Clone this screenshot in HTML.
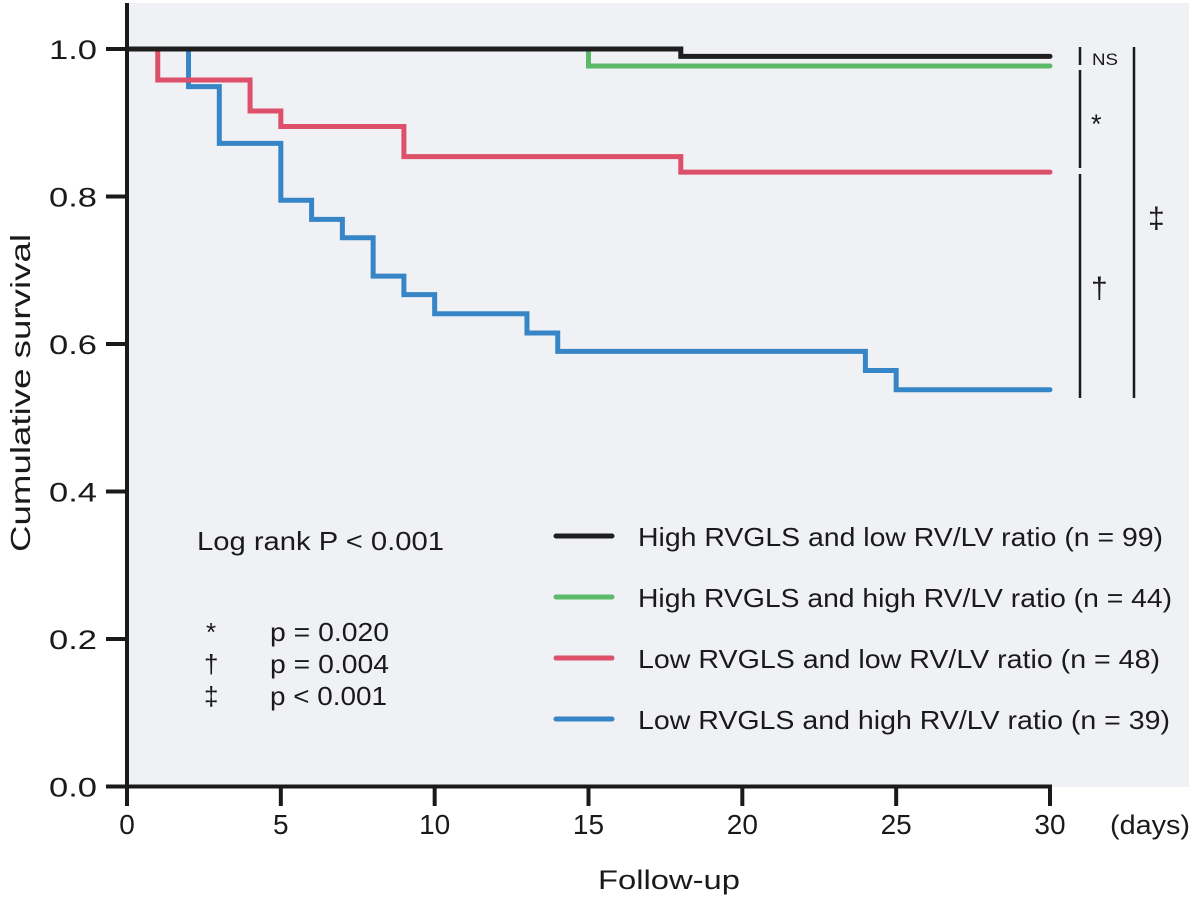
<!DOCTYPE html>
<html><head><meta charset="utf-8"><style>
body{margin:0;background:#fff;}
svg{display:block;font-family:"Liberation Sans",sans-serif;}
</style></head><body>
<svg id="chart" width="1200" height="910" viewBox="0 0 1200 910">
<rect x="127" y="3" width="1062" height="784" fill="#f0f1f5"/>
<g id="curves"></g>
<g id="axes"></g>
<g stroke="#1a1a1a" stroke-width="2.5">
<line x1="1080" y1="47" x2="1080" y2="65"/>
<line x1="1080" y1="70" x2="1080" y2="168"/>
<line x1="1080" y1="174" x2="1080" y2="398"/>
<line x1="1134" y1="47" x2="1134" y2="398"/>
</g>
<g fill="#1a1a1a">
<text x="1092" y="65" font-size="17" textLength="26" lengthAdjust="spacingAndGlyphs">NS</text>
<text x="1091" y="133" font-size="27">*</text>
<text x="1091" y="298" font-size="30">†</text>
<text x="1148" y="228" font-size="30">‡</text>
</g>
<g fill="#1a1a1a" font-size="26">
<text x="197" y="550" textLength="247" lengthAdjust="spacingAndGlyphs">Log rank  P &lt; 0.001</text>
<text x="206" y="641">*</text><text x="270" y="641" textLength="119" lengthAdjust="spacingAndGlyphs">p = 0.020</text>
<text x="204" y="673">†</text><text x="270" y="673" textLength="119" lengthAdjust="spacingAndGlyphs">p = 0.004</text>
<text x="204" y="705">‡</text><text x="270" y="705" textLength="117" lengthAdjust="spacingAndGlyphs">p &lt; 0.001</text>
</g>
<g id="legend"></g>
<text x="598" y="889" font-size="27" textLength="142" lengthAdjust="spacingAndGlyphs" fill="#1a1a1a">Follow-up</text>
<text x="1110" y="834" font-size="27" textLength="80" lengthAdjust="spacingAndGlyphs" fill="#1a1a1a">(days)</text>
<text transform="translate(30,393) rotate(-90)" font-size="28" text-anchor="middle" textLength="318" lengthAdjust="spacingAndGlyphs" fill="#1a1a1a">Cumulative survival</text>
</svg>
<script>
const seriesNames = ["High RVGLS and low RV/LV ratio (n = 99)","High RVGLS and high RV/LV ratio (n = 44)","Low RVGLS and low RV/LV ratio (n = 48)","Low RVGLS and high RV/LV ratio (n = 39)"];
const seriesColors = ["#1e1e1e","#5cb96a","#dc5069","#3585c7"];
const blackTimes = [18];
const blackValues = [0.990];
const greenTimes = [15];
const greenValues = [0.977];
const redTimes = [1,4,5,9,18];
const redValues = [0.958,0.916,0.895,0.854,0.833];
const blueTimes = [2,3,5,6,7,8,9,10,13,14,24,25];
const blueValues = [0.949,0.872,0.795,0.769,0.744,0.692,0.667,0.641,0.615,0.590,0.564,0.538];
const xTicks = [0,5,10,15,20,25,30];
const yTicks = [0,0.2,0.4,0.6,0.8,1.0];
const yTickLabels = ["0.0","0.2","0.4","0.6","0.8","1.0"];
const maxDay = 30;

const NS="http://www.w3.org/2000/svg";
const xS = d => 127 + d*(1050-127)/30;
const yS = v => 786.5 - v*737.5;
function mk(t,a,p){const e=document.createElementNS(NS,t);for(const k in a)e.setAttribute(k,a[k]);p.appendChild(e);return e;}

const curves=document.getElementById('curves');
const all=[[blackTimes,blackValues],[greenTimes,greenValues],[redTimes,redValues],[blueTimes,blueValues]];
const order=[3,2,1,0];
order.forEach(i=>{
  const [ts,vs]=all[i];
  let d=`M${xS(0)},${yS(1)}`; let prev=1;
  ts.forEach((t,j)=>{d+=` L${xS(t)},${yS(prev)} L${xS(t)},${yS(vs[j])}`;prev=vs[j];});
  d+=` L${xS(maxDay)},${yS(prev)}`;
  const p=mk('path',{d:d,fill:'none',stroke:seriesColors[i],'stroke-width':5,'stroke-linecap':'round','stroke-linejoin':'miter'},curves);
  
  
});

const axes=document.getElementById('axes');
mk('line',{x1:127,y1:3,x2:127,y2:806,stroke:'#1a1a1a','stroke-width':4},axes);
mk('line',{x1:106,y1:786.5,x2:1052,y2:786.5,stroke:'#1a1a1a','stroke-width':4},axes);
xTicks.forEach(t=>{
  const l=mk('line',{x1:xS(t),y1:786,x2:xS(t),y2:806,stroke:'#1a1a1a','stroke-width':4},axes);
  
  
  const tx=mk('text',{x:xS(t),y:834,'font-size':28,'text-anchor':'middle',fill:'#1a1a1a'},axes);
  tx.textContent=t;
  
  
});
yTicks.forEach((v,i)=>{
  const l=mk('line',{x1:106,y1:yS(v),x2:127,y2:yS(v),stroke:'#1a1a1a','stroke-width':4},axes);
  
  
  const tx=mk('text',{x:97,y:yS(v)+10,'font-size':27,'text-anchor':'end',textLength:48,lengthAdjust:'spacingAndGlyphs',fill:'#1a1a1a'},axes);
  tx.textContent=yTickLabels[i];
  
  
});

const legendWidths=[525,534,522,532];
const legend=document.getElementById('legend');
seriesNames.forEach((n,i)=>{
  const y=536+i*61;
  const l=mk('line',{x1:556,y1:y,x2:612,y2:y,stroke:seriesColors[i],'stroke-width':5,'stroke-linecap':'round'},legend);
  
  
  const t=mk('text',{x:638,y:y+10,'font-size':26,textLength:legendWidths[i],lengthAdjust:'spacingAndGlyphs',fill:'#1a1a1a'},legend);
  t.textContent=n;
  
  
});
</script>
</body></html>
